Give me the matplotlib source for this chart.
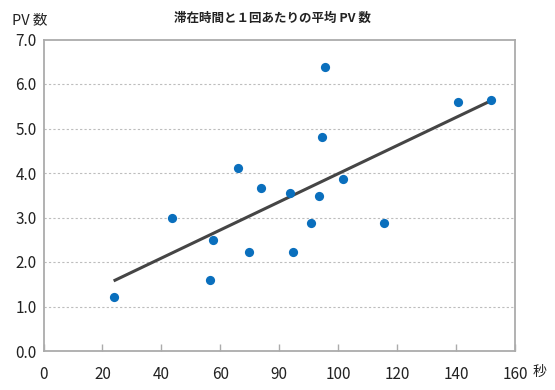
import numpy as np
import matplotlib
matplotlib.use("Agg")
import matplotlib.pyplot as plt

plt.rcParams['font.family'] = ['Noto Sans CJK JP', 'DejaVu Sans']

title = "滞在時間と１回あたりの平均 PV 数"
y_label = "PV 数"
x_label = "秒"

seconds = [23.8, 43.5, 57.5, 56.6, 65.9, 69.7, 73.7, 83.5, 84.8, 90.8,
           93.6, 94.5, 95.5, 101.6, 115.7, 140.6, 151.9]
pv = [1.22, 3.00, 2.49, 1.59, 4.12, 2.22, 3.67, 3.55, 2.23, 2.88,
      3.49, 4.82, 6.38, 3.87, 2.87, 5.59, 5.63]

x_ticks = [0, 20, 40, 60, 80, 100, 120, 140, 160]
x_tick_labels = ["0", "20", "40", "60", "90", "100", "120", "140", "160"]
y_ticks = [0, 1, 2, 3, 4, 5, 6, 7]
y_tick_labels = ["0.0", "1.0", "2.0", "3.0", "4.0", "5.0", "6.0", "7.0"]

W, H = 555, 390
fig = plt.figure(figsize=(W / 100, H / 100), dpi=100)
ax = fig.add_axes([43.5 / W, 1 - 351 / H, (515 - 43.5) / W, (351 - 39.5) / H])

ax.set_xlim(0, 160)
ax.set_ylim(0, 7)

for yv in y_ticks[1:-1]:
    ax.axhline(yv, color='#bdbdbd', lw=0.8, ls=(0, (2, 2)), zorder=1)

xs = np.array(seconds)
ys = np.array(pv)
k, b = np.polyfit(xs, ys, 1)
xl = np.array([xs.min(), xs.max()])
ax.plot(xl, k * xl + b, color='#454545', lw=2.2, zorder=2, solid_capstyle='butt')

ax.scatter(xs, ys, s=44, color='#0a6fbd', zorder=3, linewidths=0)

for s in ax.spines.values():
    s.set_color('#ababab')
    s.set_linewidth(1.3)

ax.set_xticks(x_ticks)
ax.set_xticklabels(x_tick_labels)
ax.set_yticks(y_ticks)
ax.set_yticklabels(y_tick_labels)
ax.tick_params(axis='x', direction='in', length=5, color='#ababab', width=1,
               labelsize=11, pad=11, labelcolor='#222222')
ax.tick_params(axis='y', length=0, labelsize=11, pad=5, labelcolor='#222222')

fig.text(272 / W, 1 - 18 / H, title, ha='center', va='center', fontsize=9,
         fontweight='bold', color='#222222')
fig.text(12 / W, 1 - 20 / H, y_label, ha='left', va='center', fontsize=10.5,
         color='#222222')
fig.text(533 / W, 1 - 372 / H, x_label, ha='left', va='center', fontsize=10,
         color='#222222')

fig.savefig("out.png", dpi=100)
